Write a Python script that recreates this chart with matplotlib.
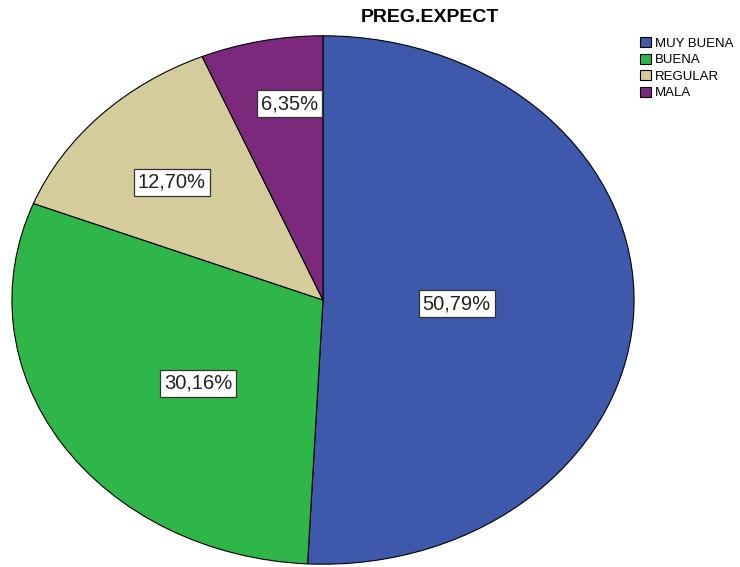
import numpy as np
import matplotlib.pyplot as plt

plt.rcParams['font.family'] = ['Liberation Sans', 'DejaVu Sans']

# data
categories = ['MUY BUENA', 'BUENA', 'REGULAR', 'MALA']
percents = [50.79, 30.16, 12.70, 6.35]
labels = ['50,79%', '30,16%', '12,70%', '6,35%']
colors = ['#3e58ac', '#2fb649', '#d4cd9b', '#7c287c']
# label placement (radius, angle shift from wedge middle)
label_r = [0.43, 0.51, 0.66, 0.75]
label_dang = [-0.4, 5.2, 1.8, -3.2]

fig = plt.figure(figsize=(7.4, 5.67), dpi=100)
ax = fig.add_axes([11 / 740, 2 / 567, 624 / 740, 530 / 567])

wedges, _ = ax.pie(percents, colors=colors, startangle=90, counterclock=False,
                   radius=1, wedgeprops=dict(edgecolor='black', linewidth=0.8))
ax.set_aspect('auto')
ax.set_xlim(-1.003, 1.003)
ax.set_ylim(-1.003, 1.003)

# percentage labels
for w, lab, r, da in zip(wedges, labels, label_r, label_dang):
    ang = np.deg2rad((w.theta1 + w.theta2) / 2 + da)
    ax.text(r * np.cos(ang), r * np.sin(ang), lab, ha='center', va='center',
            fontsize=14.5, color='#222222',
            bbox=dict(boxstyle='square,pad=0.2', fc='white', ec='#333333', lw=0.9))

fig.text(430 / 740, 1 - 18 / 567, 'PREG.EXPECT', ha='center', va='center',
         fontsize=14, fontweight='bold')

leg = fig.legend(wedges, categories, loc='upper left', bbox_to_anchor=(640 / 740, 1 - 37 / 567),
                 frameon=False, fontsize=9.5, handlelength=0.8, handleheight=0.8,
                 handletextpad=0.3, labelspacing=0.3, borderpad=0, borderaxespad=0)

fig.savefig('out.png', dpi=100)
